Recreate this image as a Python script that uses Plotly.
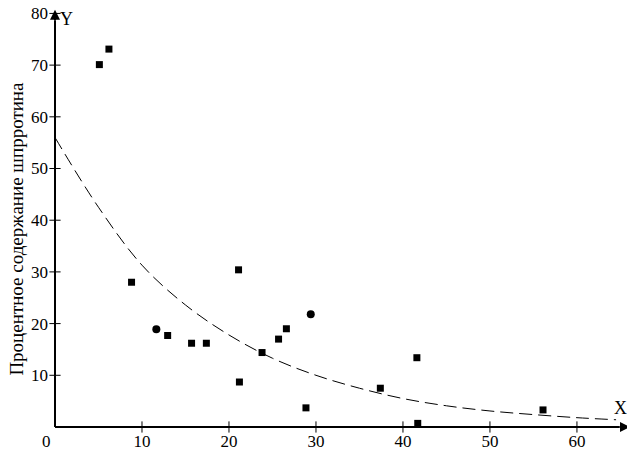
import plotly.graph_objects as go

# data points
sq_x = [5.1, 6.2, 8.8, 12.95, 15.7, 17.4, 21.1, 21.2, 23.8, 25.7, 26.6, 28.85, 37.4, 41.6, 41.7, 56.1]
sq_y = [70.1, 73.1, 28.0, 17.7, 16.2, 16.2, 30.4, 8.7, 14.4, 17.0, 19.0, 3.7, 7.5, 13.4, 0.7, 3.3]
circ_x = [11.65, 29.4]
circ_y = [18.9, 21.8]

# dashed trend curve
curve_x = [0, 5, 10, 15, 20, 25, 30, 35, 40, 45, 50, 55, 60, 64.5]
curve_y = [56, 42.5, 31.3, 23.6, 17.8, 13.3, 10.0, 7.5, 5.5, 4.1, 3.1, 2.4, 1.8, 1.4]

x_ticks = [10, 20, 30, 40, 50, 60]
y_ticks = [10, 20, 30, 40, 50, 60, 70, 80]
y_title = "Процентное содержание шпрротина"

XMIN, XMAX = -0.23, 66.1
YMIN, YMAX = -0.39, 80.7
YTOP = 81.05
FONT = "Liberation Serif"

fig = go.Figure()
# axis lines
fig.add_trace(go.Scatter(x=[0, XMAX - 1.2], y=[0, 0], mode="lines", line=dict(color="black", width=2),
                         hoverinfo="skip", showlegend=False, cliponaxis=False))
fig.add_trace(go.Scatter(x=[0, 0], y=[0, YMAX - 2.0], mode="lines", line=dict(color="black", width=2),
                         hoverinfo="skip", showlegend=False, cliponaxis=False))
# tick marks crossing the axes
fig.add_trace(go.Scatter(x=x_ticks, y=[0] * len(x_ticks), mode="markers",
                         marker=dict(symbol="line-ns", size=8, line=dict(color="black", width=1)),
                         hoverinfo="skip", showlegend=False, cliponaxis=False))
fig.add_trace(go.Scatter(x=[0] * len(y_ticks), y=y_ticks, mode="markers",
                         marker=dict(symbol="line-ew", size=8, line=dict(color="black", width=1)),
                         hoverinfo="skip", showlegend=False, cliponaxis=False))
# trend curve and data
fig.add_trace(go.Scatter(x=curve_x, y=curve_y, mode="lines", line=dict(color="black", width=1, dash="13px,6px", shape="spline"),
                         hoverinfo="skip", showlegend=False))
fig.add_trace(go.Scatter(x=sq_x, y=sq_y, mode="markers", marker=dict(symbol="square", size=7, color="black"),
                         showlegend=False, cliponaxis=False))
fig.add_trace(go.Scatter(x=circ_x, y=circ_y, mode="markers", marker=dict(symbol="circle", size=8, color="black"),
                         showlegend=False))

annotations = [
    dict(x=XMAX, y=0, ax=-12, ay=0, xref="x", yref="y", text="", showarrow=True,
         arrowhead=2, arrowwidth=2, arrowsize=1, arrowcolor="black"),
    dict(x=0, y=YMAX, ax=0, ay=12, xref="x", yref="y", text="", showarrow=True,
         arrowhead=2, arrowwidth=2, arrowsize=1, arrowcolor="black"),
    dict(x=0, y=0, xref="x", yref="y", text="0", showarrow=False, xanchor="right", yanchor="top",
         xshift=-2, yshift=-3, font=dict(family=FONT, size=17, color="black")),
    dict(x=0, y=YMAX, xref="x", yref="y", text="Y", showarrow=False, xanchor="left", yanchor="top",
         xshift=3, yshift=3, font=dict(family=FONT, size=18, color="black")),
    dict(x=XMAX, y=0, xref="x", yref="y", text="X", showarrow=False, xanchor="right", yanchor="bottom",
         xshift=-1, yshift=7, font=dict(family=FONT, size=18, color="black")),
    dict(x=0, y=0.476, xref="x", yref="paper", text=y_title, showarrow=False, textangle=-90,
         xanchor="center", yanchor="middle", xshift=-38, font=dict(family=FONT, size=19, color="black")),
]

# the page body adds an 8px margin, so the figure is sized to fill the rest of the window
fig.update_layout(
    width=627, height=443,
    margin=dict(l=45, r=5, t=0, b=22),
    paper_bgcolor="white", plot_bgcolor="white",
    annotations=annotations,
    font=dict(family=FONT, size=17, color="black"),
    xaxis=dict(range=[XMIN, XMAX], showgrid=False, zeroline=False, showline=False,
               automargin=False, tickvals=x_ticks, ticks="", ticklabelstandoff=0, ticklabeloverflow="allow",
               tickfont=dict(family=FONT, size=17)),
    yaxis=dict(range=[YMIN, YTOP], showgrid=False, zeroline=False, showline=False,
               automargin=False, tickvals=y_ticks, ticks="", ticklabelstandoff=4, ticklabeloverflow="allow",
               tickfont=dict(family=FONT, size=17)),
)

fig.write_html("out.html")
